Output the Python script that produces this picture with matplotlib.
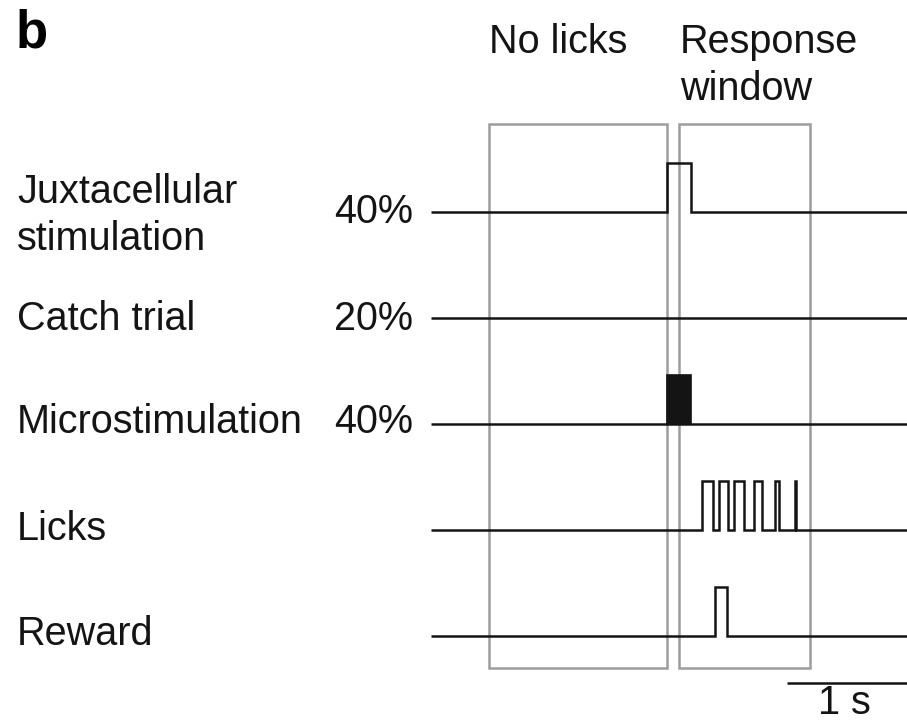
import matplotlib
matplotlib.use("Agg")
import matplotlib.pyplot as plt
from matplotlib.patches import Rectangle

# ---- trial structure (time in seconds, stimulus onset at 0) ----
trace_names = [["Juxtacellular", "stimulation"], ["Catch trial"], ["Microstimulation"],
               ["Licks"], ["Reward"]]
trace_probs = ["40%", "20%", "40%", "", ""]

t_start, t_end = -1.97, 2.0

juxta_pulses = [(0.0, 0.2)]
catch_pulses = []
micro_block = (0.0, 0.2)
lick_pulses = [(0.289, 0.386), (0.436, 0.511), (0.561, 0.642),
               (0.725, 0.789), (0.900, 0.936), (1.067, 1.075)]
reward_pulses = [(0.40, 0.497)]

no_lick_window = (-1.48, 0.0)
response_window = (0.10, 1.19)
scale_bar = (1.0, 2.0)
scale_label = "1 s"

# ---- figure geometry ----
W, H, DPI = 907, 722, 100
PX_PER_S = 120.0
X0_PX = 667.0          # pixel column of t = 0
ROW0_PX, ROW_PX = 212.0, 106.0
PULSE_H = 0.46         # pulse height in row units

def tx(px):
    return (px - X0_PX) / PX_PER_S

def ry(px):
    return (px - ROW0_PX) / ROW_PX

plt.rcParams["font.family"] = ["Liberation Sans", "DejaVu Sans"]

fig = plt.figure(figsize=(W / DPI, H / DPI), dpi=DPI)
ax = fig.add_axes([0, 0, 1, 1])
ax.set_xlim(tx(0), tx(W))
ax.set_ylim(ry(H), ry(0))
ax.axis("off")

ink = "#141414"
box_col = "#9d9d9d"
lw = 1.8
fs = 28.5


def step_trace(row, pulses):
    xs, ys = [t_start], [row]
    for on, off in pulses:
        xs += [on, on, off, off]
        ys += [row, row - PULSE_H, row - PULSE_H, row]
    xs.append(t_end)
    ys.append(row)
    ax.plot(xs, ys, color=ink, lw=lw, solid_joinstyle="miter", solid_capstyle="butt")


# epoch boxes
for (a, b) in (no_lick_window, response_window):
    ax.add_patch(Rectangle((a, ry(124)), b - a, ry(668) - ry(124),
                           fill=False, edgecolor=box_col, lw=1.8))

step_trace(0, juxta_pulses)
step_trace(1, catch_pulses)
step_trace(2, [])
ax.add_patch(Rectangle((micro_block[0], 2 - PULSE_H), micro_block[1] - micro_block[0],
                       PULSE_H, facecolor=ink, edgecolor=ink, lw=1.2))
step_trace(3, lick_pulses)
step_trace(4, reward_pulses)

# scale bar
ax.plot(scale_bar, [ry(683)] * 2, color=ink, lw=lw, solid_capstyle="butt")
ax.text(tx(844), ry(714), scale_label, fontsize=fs, ha="center", va="baseline", color=ink)

# row labels
label_baselines = [[203, 250], [330], [433], [540], [645]]
prob_baselines = [223, 330, 433, None, None]
for names, bases, p, pb in zip(trace_names, label_baselines, trace_probs, prob_baselines):
    for name, b in zip(names, bases):
        ax.text(tx(17), ry(b), name, fontsize=fs, ha="left", va="baseline", color=ink)
    if p:
        ax.text(tx(413), ry(pb), p, fontsize=fs, ha="right", va="baseline", color=ink)

# epoch headers
ax.text(tx(489), ry(53), "No licks", fontsize=fs, ha="left", va="baseline", color=ink)
ax.text(tx(680), ry(53), "Response", fontsize=fs, ha="left", va="baseline", color=ink)
ax.text(tx(680), ry(100), "window", fontsize=fs, ha="left", va="baseline", color=ink)

# panel letter
ax.text(tx(16), ry(47), "b", fontsize=38, fontweight="bold", ha="left", va="baseline", color="black")

fig.savefig("out.png", dpi=DPI)
